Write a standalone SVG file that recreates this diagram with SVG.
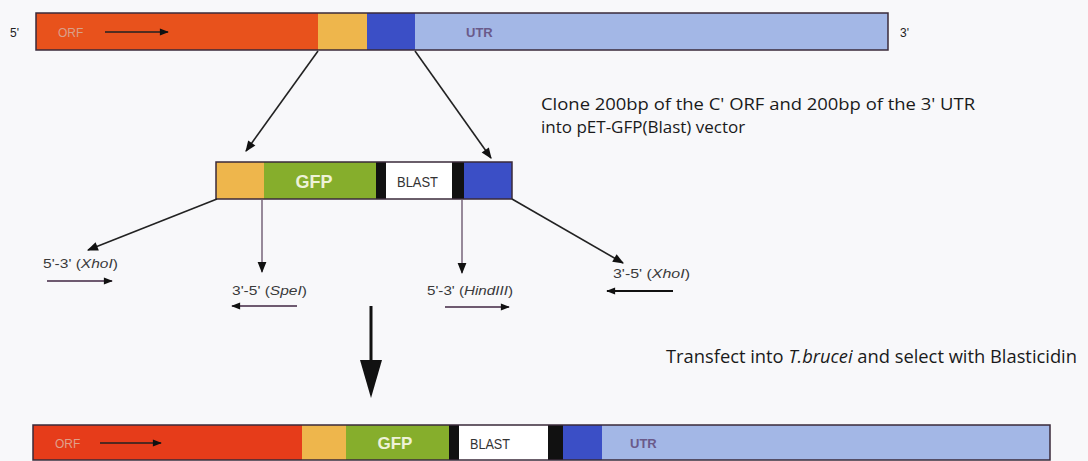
<svg xmlns="http://www.w3.org/2000/svg" width="1088" height="461" viewBox="0 0 1088 461">
<defs>
<style>
.t{font-family:"Liberation Sans",Arial,sans-serif;fill:#222}
.lbl{font-family:"Open Sans","Liberation Sans",sans-serif;fill:#1a1a1a}
.sm{font-family:"Liberation Sans",Arial,sans-serif;fill:#3a3a3a;font-size:13px}
.ln{stroke:#222;stroke-width:1.6;fill:none}
.pr{stroke:#6e5a70;stroke-width:1.8;fill:none}
.bar{stroke:#3a2a3a;stroke-width:1.5}
</style>
<marker id="ah" viewBox="0 0 10 10" refX="9" refY="5" markerWidth="14" markerHeight="11" markerUnits="userSpaceOnUse" orient="auto">
<path d="M0,1 L10,5 L0,9 z" fill="#111"/>
</marker>
<marker id="ahs" viewBox="0 0 10 10" refX="9" refY="5" markerWidth="15" markerHeight="9" markerUnits="userSpaceOnUse" orient="auto">
<path d="M0,1 L10,5 L0,9 z" fill="#111"/>
</marker>
</defs>
<rect width="1088" height="461" fill="#f8f8fa"/>

<g id="top-gene">
<rect x="36" y="13" width="282" height="37" fill="#e8521c"/>
<rect x="318" y="13" width="49" height="37" fill="#eeb64c"/>
<rect x="367" y="13" width="48" height="37" fill="#3b4fc6"/>
<rect x="415" y="13" width="473" height="37" fill="#a3b7e6"/>
<rect x="36" y="13" width="852" height="37" fill="none" class="bar"/>
<text x="10" y="37" class="t" font-size="12">5'</text>
<text x="58" y="37" class="t" font-size="12" style="fill:#d9a08a">ORF</text>
<line x1="105" y1="32" x2="168" y2="32" class="ln" marker-end="url(#ahs)"/>
<text x="466" y="37" class="t" font-size="13" style="fill:#6a5a8a" font-weight="bold">UTR</text>
<text x="900" y="37" class="t" font-size="12">3'</text>
</g>

<g id="construct">
<rect x="216" y="162" width="48" height="37" fill="#eeb64c"/>
<rect x="264" y="162" width="112" height="37" fill="#86ae2c"/>
<rect x="376" y="162" width="10" height="37" fill="#111"/>
<rect x="386" y="162" width="66" height="37" fill="#fff"/>
<rect x="452" y="162" width="12" height="37" fill="#111"/>
<rect x="464" y="162" width="48" height="37" fill="#3b4fc6"/>
<rect x="216" y="162" width="296" height="37" fill="none" class="bar"/>
<text x="314" y="188" text-anchor="middle" class="t" font-size="18" font-weight="bold" style="fill:#eef2d8">GFP</text>
<text x="397" y="187" class="t" font-size="14" textLength="41" lengthAdjust="spacingAndGlyphs" style="fill:#333">BLAST</text>
</g>

<g id="final-gene">
<rect x="33" y="425" width="269" height="35" fill="#e63c1a"/>
<rect x="302" y="425" width="44" height="35" fill="#eeb64c"/>
<rect x="346" y="425" width="103" height="35" fill="#86ae2c"/>
<rect x="449" y="425" width="10" height="35" fill="#111"/>
<rect x="459" y="425" width="89" height="35" fill="#fff"/>
<rect x="548" y="425" width="15" height="35" fill="#111"/>
<rect x="563" y="425" width="39" height="35" fill="#3b4fc6"/>
<rect x="602" y="425" width="448" height="35" fill="#a3b7e6"/>
<rect x="33" y="425" width="1017" height="35" fill="none" class="bar"/>
<text x="55" y="448" class="t" font-size="12" style="fill:#e0a08a">ORF</text>
<line x1="100" y1="443" x2="161" y2="443" class="ln" marker-end="url(#ahs)"/>
<text x="395" y="449" text-anchor="middle" class="t" font-size="17" font-weight="bold" style="fill:#eef2d8">GFP</text>
<text x="470" y="449" class="t" font-size="14" textLength="40" lengthAdjust="spacingAndGlyphs" style="fill:#333">BLAST</text>
<text x="630" y="448" class="t" font-size="13" style="fill:#6a5a8a" font-weight="bold">UTR</text>
</g>

<g id="primer-xho-f">
<text x="43" y="268" class="sm" textLength="75" lengthAdjust="spacingAndGlyphs">5'-3' (<tspan font-style="italic">XhoI</tspan>)</text>
<line x1="47" y1="281" x2="112" y2="281" class="pr" marker-end="url(#ahs)"/>
</g>
<g id="primer-spe-r">
<text x="232" y="295" class="sm" textLength="75" lengthAdjust="spacingAndGlyphs">3'-5' (<tspan font-style="italic">SpeI</tspan>)</text>
<line x1="297" y1="306" x2="232" y2="306" class="pr" marker-end="url(#ahs)"/>
</g>
<g id="primer-hind-f">
<text x="427" y="295" class="sm" textLength="86" lengthAdjust="spacingAndGlyphs">5'-3' (<tspan font-style="italic">HindIII</tspan>)</text>
<line x1="445" y1="307" x2="509" y2="307" class="pr" marker-end="url(#ahs)"/>
</g>
<g id="primer-xho-r">
<text x="613" y="278" class="sm" textLength="77" lengthAdjust="spacingAndGlyphs">3'-5' (<tspan font-style="italic">XhoI</tspan>)</text>
<line x1="673" y1="291" x2="607" y2="291" stroke="#111" stroke-width="1.8" marker-end="url(#ahs)"/>
</g>

<g id="notes">
<text x="541" y="110" class="lbl" font-size="17" textLength="434" lengthAdjust="spacingAndGlyphs">Clone 200bp of the C' ORF and 200bp of the 3' UTR</text>
<text x="541" y="133" class="lbl" font-size="17">into pET-GFP(Blast) vector</text>
<text x="666" y="363" class="lbl" font-size="17.5" textLength="411" lengthAdjust="spacingAndGlyphs">Transfect into <tspan font-style="italic">T.brucei</tspan> and select with Blasticidin</text>
</g>

<g id="connectors">
<line x1="318" y1="51" x2="246" y2="151" class="ln" marker-end="url(#ah)"/>
<line x1="415" y1="51" x2="491" y2="158" class="ln" marker-end="url(#ah)"/>
<line x1="217" y1="199" x2="88" y2="250" class="ln" marker-end="url(#ah)"/>
<line x1="262" y1="200" x2="262" y2="272" stroke="#6e5a70" stroke-width="1.4" marker-end="url(#ah)"/>
<line x1="462" y1="200" x2="462" y2="273" stroke="#6e5a70" stroke-width="1.4" marker-end="url(#ah)"/>
<line x1="512" y1="199" x2="623" y2="263" class="ln" marker-end="url(#ah)"/>
<line x1="371" y1="306" x2="371" y2="362" stroke="#111" stroke-width="3"/>
<path d="M360,360 L382,360 L371,398 z" fill="#111"/>
</g>
</svg>
